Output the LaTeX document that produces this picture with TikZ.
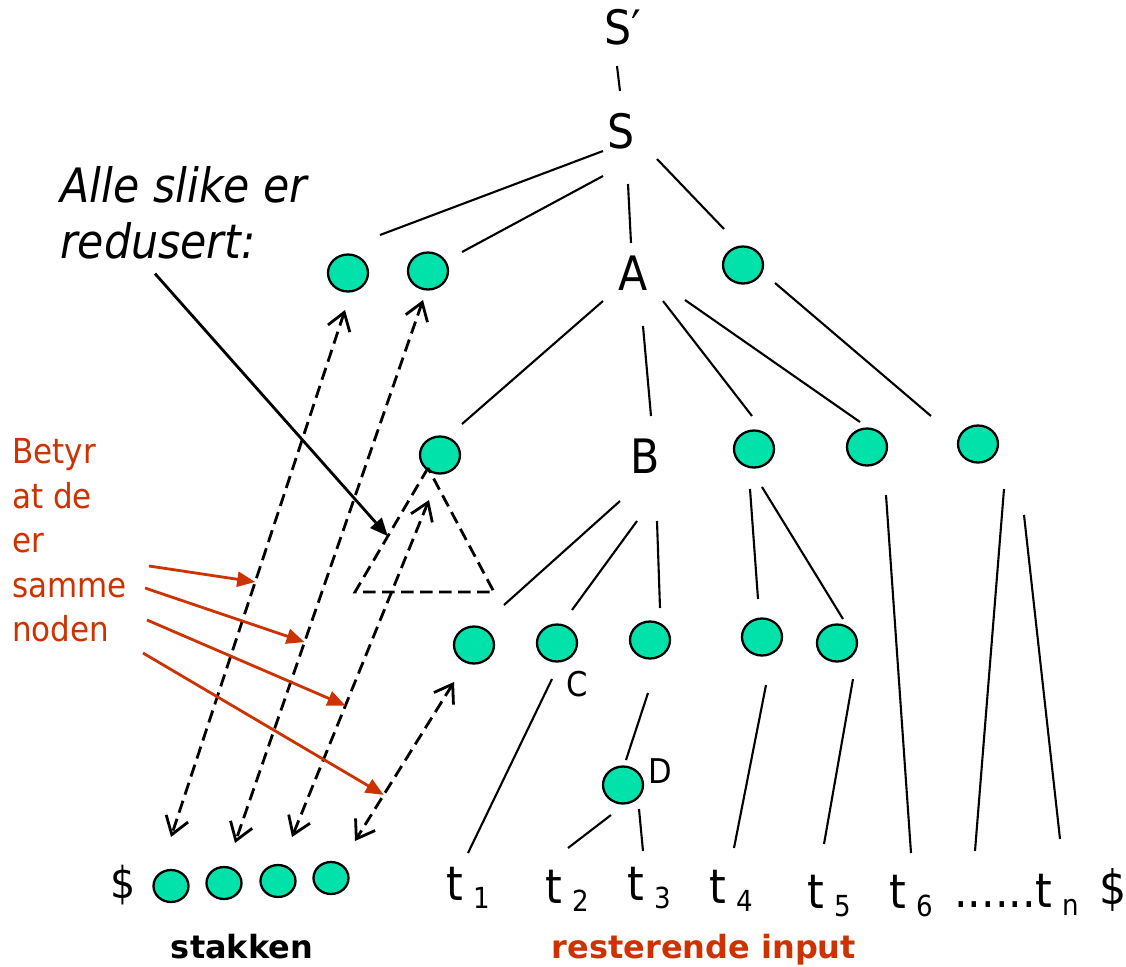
\documentclass[tikz,border=0pt]{standalone}
\usepackage{fontspec}
\setmainfont{DejaVu Sans Condensed}
\newfontfamily\boldsans{DejaVu Sans}
\usetikzlibrary{arrows.meta, shapes.geometric, positioning}
\definecolor{nodegreen}{RGB}{0,226,170}
\definecolor{notered}{RGB}{204,51,0}
\newcommand{\tsub}[1]{\kern0.22em\raisebox{-0.18em}{\fontsize{16.5}{16.5}\selectfont #1}}

\begin{document}
\begin{tikzpicture}[x=0.02cm, y=-0.02cm,
	main/.style = {draw, ellipse, fill=nodegreen, line width=1.3pt, inner sep=0pt, minimum width=0.8cm, minimum height=0.74cm},
	stack/.style = {main, minimum width=0.7cm, minimum height=0.64cm},
	lbl/.style = {inner sep=0pt, font=\fontsize{27}{32}\selectfont},
	small/.style = {inner sep=0pt, font=\fontsize{19.4}{24}\selectfont},
	tree/.style = {line width=1.2pt},
	dashes/.style = {line width=1.6pt, dash pattern=on 0.25cm off 0.13cm},
	link/.style = {dashes, {Straight Barb[length=0.34cm,width=0.46cm]}-{Straight Barb[length=0.34cm,width=0.46cm]}},
	pointer/.style = {line width=1.6pt, -{Triangle[length=0.36cm,width=0.3cm]}}]
	\useasboundingbox (0,0) rectangle (1126,967);
	% tree labels
	\node[lbl, anchor=base] (Sp) at (623,44) {S′};
	\node[lbl, anchor=base] (S) at (621,148) {S};
	\node[lbl, anchor=base] (A) at (633,290) {A};
	\node[lbl, anchor=base] (B) at (645,473) {B};
	\node[small, anchor=base] (labC) at (577,696) {C};
	\node[small, anchor=base] (labD) at (660,783) {D};
	% tree nodes
	\node[main] (e1) at (348,273) {};
	\node[main] (e2) at (428,271) {};
	\node[main] (e3) at (743,265) {};
	\node[main] (e4) at (440,455) {};
	\node[main] (e5) at (754,449) {};
	\node[main] (e6) at (867,447) {};
	\node[main] (e7) at (978,444) {};
	\node[main] (e8) at (474,645) {};
	\node[main] (e9) at (557,643) {};
	\node[main] (e10) at (650,640) {};
	\node[main] (e11) at (762,637) {};
	\node[main] (e12) at (837,643) {};
	\node[main] (d) at (623,785) {};
	% input
	\node[lbl, anchor=base west] (t1) at (446,900) {t\tsub{1}};
	\node[lbl, anchor=base west] (t2) at (545,903) {t\tsub{2}};
	\node[lbl, anchor=base west] (t3) at (627,900) {t\tsub{3}};
	\node[lbl, anchor=base west] (t4) at (709,903) {t\tsub{4}};
	\node[lbl, anchor=base west] (t5) at (807,908) {t\tsub{5}};
	\node[lbl, anchor=base west] (t6) at (889,908) {t\tsub{6}};
	\node[lbl, anchor=base west] (tn) at (954,907) {......t\tsub{n}};
	\node[inner sep=0pt, anchor=base west, font=\fontsize{27}{30}\selectfont] (dr) at (1099,904) {\$};
	% stack
	\node[inner sep=0pt, anchor=base, font=\fontsize{25}{28}\selectfont] (dl) at (123,898) {\$};
	\node[stack] (s1) at (171,886) {};
	\node[stack] (s2) at (224,883) {};
	\node[stack] (s3) at (278,881) {};
	\node[stack] (s4) at (331,878) {};
	% texts
	\node[inner sep=0pt, anchor=north west, align=left, font=\itshape\fontsize{27}{32}\selectfont] (alle) at (60,166) {Alle slike er\\redusert:};
	\node[inner sep=0pt, anchor=north west, align=left, text=notered, font=\fontsize{19.6}{25.4}\selectfont] (betyr) at (12,438) {Betyr\\at de\\er\\samme\\noden};
	\node[inner sep=0pt, anchor=base, font=\boldsans\bfseries\fontsize{18.2}{22}\selectfont] (stk) at (242,958) {stakken};
	\node[inner sep=0pt, anchor=base, text=notered, font=\boldsans\bfseries\fontsize{18.2}{22}\selectfont] (rest) at (704,958) {resterende input};
	% edges
	\draw[tree] ([shift={(-6,22)}]Sp.base) -- ([shift={(-1,-57)}]S.base);
	\draw[tree] ([shift={(-18,3)}]S.base) -- ([shift={(32,-38)}]e1.center);
	\draw[tree] ([shift={(-18,28)}]S.base) -- ([shift={(34,-19)}]e2.center);
	\draw[tree] ([shift={(7,36)}]S.base) -- ([shift={(-2,-47)}]A.base);
	\draw[tree] ([shift={(36,11)}]S.base) -- ([shift={(-19,-36)}]e3.center);
	\draw[tree] ([shift={(-30,11)}]A.base) -- ([shift={(22,-31)}]e4.center);
	\draw[tree] ([shift={(10,36)}]A.base) -- ([shift={(6,-57)}]B.base);
	\draw[tree] ([shift={(30,11)}]A.base) -- ([shift={(-2,-33)}]e5.center);
	\draw[tree] ([shift={(52,10)}]A.base) -- ([shift={(-7,-25)}]e6.center);
	\draw[tree] ([shift={(32,18)}]e3.center) -- ([shift={(-47,-28)}]e7.center);
	\draw[tree] ([shift={(-25,28)}]B.base) -- ([shift={(30,-40)}]e8.center);
	\draw[tree] ([shift={(-8,48)}]B.base) -- ([shift={(15,-33)}]e9.center);
	\draw[tree] ([shift={(12,48)}]B.base) -- ([shift={(10,-32)}]e10.center);
	\draw[tree] ([shift={(-4,40)}]e5.center) -- ([shift={(-4,-38)}]e11.center);
	\draw[tree] ([shift={(8,38)}]e5.center) -- ([shift={(6,-24)}]e12.center);
	\draw[tree] ([shift={(19,48)}]e6.center) -- ([shift={(22,-55)}]t6.base west);
	\draw[tree] ([shift={(26,45)}]e7.center) -- ([shift={(21,-56)}]tn.base west);
	\draw[tree] ([shift={(46,71)}]e7.center) -- ([shift={(106,-68)}]tn.base west);
	\draw[tree] ([shift={(-5,36)}]e9.center) -- ([shift={(22,-47)}]t1.base west);
	\draw[tree] ([shift={(-2,53)}]e10.center) -- ([shift={(3,-25)}]d.center);
	\draw[tree] ([shift={(-12,30)}]d.center) -- ([shift={(23,-55)}]t2.base west);
	\draw[tree] ([shift={(16,24)}]d.center) -- ([shift={(16,-49)}]t3.base west);
	\draw[tree] ([shift={(4,48)}]e11.center) -- ([shift={(25,-55)}]t4.base west);
	\draw[tree] ([shift={(16,36)}]e12.center) -- ([shift={(17,-64)}]t5.base west);
	% reduced subtree
	\draw[dashes] ([shift={(-12,13)}]e4.center) -- coordinate[pos=0.55] (trileft) (355,592) -- (494,592) -- cycle;
	% same node links
	\draw[link] ([shift={(-3,37)}]e1.center) -- coordinate[pos=0.516] (m1) ([shift={(0,-49)}]s1.center);
	\draw[link] ([shift={(-5,29)}]e2.center) -- coordinate[pos=0.63] (m2) ([shift={(11,-40)}]s2.center);
	\draw[link] ([shift={(-11,45)}]e4.center) -- coordinate[pos=0.61] (m3) ([shift={(14,-44)}]s3.center);
	\draw[link] ([shift={(-20,37)}]e8.center) -- coordinate[pos=0.71] (m4) ([shift={(24,-37)}]s4.center);
	% pointers
	\coordinate (r1) at (149,566);
	\coordinate (r2) at (145,588);
	\coordinate (r3) at (147,620);
	\coordinate (r4) at (143,653);
	\draw[pointer, notered] (r1) -- (m1);
	\draw[pointer, notered] (r2) -- (m2);
	\draw[pointer, notered] (r3) -- (m3);
	\draw[pointer, notered] (r4) -- (m4);
	\draw[pointer] ([shift={(95,14)}]alle.south west) -- (trileft);
\end{tikzpicture}
\end{document}
